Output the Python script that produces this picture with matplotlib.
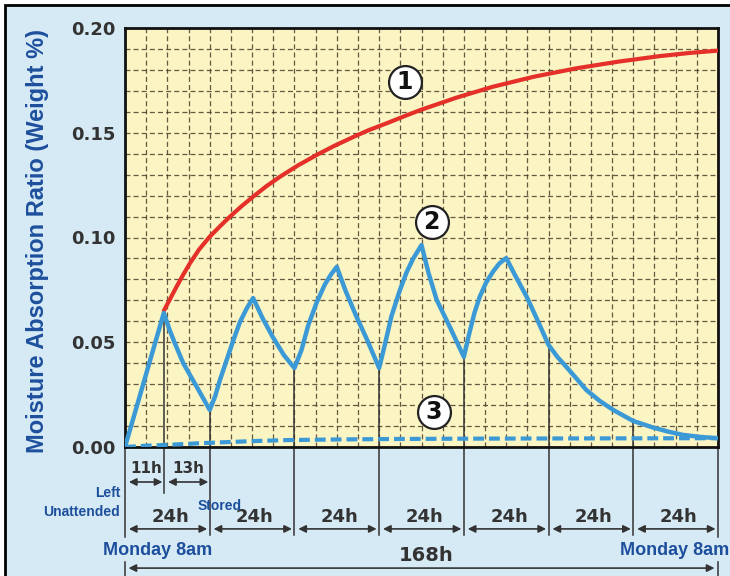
import matplotlib
matplotlib.use("Agg")
import matplotlib.pyplot as plt
import numpy as np
from matplotlib import font_manager
from matplotlib.patches import Rectangle

# curve 1 (red): left unattended the whole week
red_t = [11, 12.5, 14.6, 16.5, 18.4, 21, 24, 27, 29.7, 33, 36.3, 40, 43.9, 49, 54.3, 59,
         64.7, 69, 74.1, 79, 83.6, 94, 104.3, 116, 128, 140, 151.6, 160, 168]
red_v = [0.065, 0.0698, 0.0765, 0.0823, 0.0877, 0.0943, 0.1004, 0.1055, 0.1099, 0.1149,
         0.1195, 0.1244, 0.129, 0.1344, 0.1394, 0.1435, 0.148, 0.1512, 0.1545, 0.1578,
         0.1608, 0.1668, 0.172, 0.1768, 0.1808, 0.184, 0.1866, 0.1881, 0.1892]

# curve 2 (blue): used in the day, stored at night
blue_t = [0, 11, 12.5, 14, 16.5, 20.3, 24,
          25.5, 26.9, 28.8, 30.7, 32.6, 34.5, 36.3,
          39, 41.8, 45, 48,
          50, 51.9, 54.3, 56.6, 58.3, 60,
          62.5, 65.5, 68.5, 72,
          73.5, 75.5, 77.9, 79.8, 81.6, 84,
          86, 88.3, 92, 96,
          97.5, 99, 100.5, 102.3, 104.3, 106, 108,
          110.5, 113.8, 117, 120, 122.5, 125, 128, 130.7, 134.5, 138.3, 144, 149.6, 154,
          158, 163, 168]
blue_v = [0.0, 0.064, 0.0565, 0.050, 0.040, 0.0288, 0.0177,
          0.024, 0.032, 0.0415, 0.051, 0.0598, 0.0662, 0.0711,
          0.0614, 0.0527, 0.0439, 0.0377,
          0.0463, 0.058, 0.069, 0.0775, 0.0822, 0.086,
          0.0745, 0.0625, 0.0515, 0.0377,
          0.048, 0.0625, 0.075, 0.0835, 0.0898, 0.0964,
          0.083, 0.0702, 0.0574, 0.043,
          0.054, 0.064, 0.0717, 0.0785, 0.0838, 0.0875, 0.0902,
          0.082, 0.0717, 0.060, 0.0487, 0.043, 0.0383, 0.0325, 0.0272, 0.022, 0.0177,
          0.0124, 0.0093, 0.0073, 0.0058, 0.0048, 0.0042]

# curve 3 (dashed): stored the whole time
dash_t = [0, 6, 13, 20, 27, 36, 46, 60, 74, 100, 130, 168]
dash_v = [0.0, 0.0006, 0.0011, 0.0017, 0.0022, 0.0028, 0.0033, 0.0036, 0.0038, 0.0040,
          0.0041, 0.0042]

day_marks = [24, 48, 72, 96, 120, 144]
yticks = [0.0, 0.05, 0.10, 0.15, 0.20]
ytick_labels = ["0.00", "0.05", "0.10", "0.15", "0.20"]
circle_labels = ["1", "2", "3"]
circle_pos = [(79.3, 0.1744), (86.9, 0.1075), (87.4, 0.0168)]

names = {f.name for f in font_manager.fontManager.ttflist}
narrow = "Liberation Sans Narrow" if "Liberation Sans Narrow" in names else "Liberation Sans"

BLUE = "#3b9ad6"
RED = "#e5302a"
DARK = "#333333"
TXT_BLUE = "#1d4f9c"

fig = plt.figure(figsize=(7.3, 5.76), dpi=100, facecolor="white")
fig.add_artist(Rectangle((5 / 730, -0.2), 1.2, 1.2 - 5 / 576, transform=fig.transFigure,
                         facecolor="#d6eaf6", edgecolor="black", lw=2, zorder=-10))

ax = fig.add_axes([125 / 730, 1 - 447 / 576, 593 / 730, 419 / 576])
ax.set_facecolor("#fbf4c3")
ax.set_xlim(0, 168)
ax.set_ylim(0, 0.2)
ax.set_xticks(np.arange(0, 169, 6))
ax.set_xticklabels([])
ax.set_yticks(yticks)
ax.set_yticklabels(ytick_labels, fontsize=13, fontweight="bold", color=DARK)
ax.set_yticks(np.arange(0, 0.2001, 0.01), minor=True)
ax.tick_params(which="both", length=0, pad=7)
ax.grid(True, which="both", color="#4a3e2a", lw=0.9, linestyle=(0, (4, 2.5)), alpha=0.85)
ax.set_axisbelow(True)
for s in ax.spines.values():
    s.set_linewidth(2)
    s.set_color("#111111")

ax.plot(red_t, red_v, color=RED, lw=3, zorder=3, solid_capstyle="round")
ax.plot(blue_t, blue_v, color=BLUE, lw=3.2, zorder=4)
ax.plot(dash_t, dash_v, color=BLUE, lw=3, linestyle=(0, (2.6, 1.2)), zorder=4)

# vertical marker lines
top11 = np.interp(11, blue_t, blue_v)
ax.plot([11, 11], [top11, -0.022], color=DARK, lw=1.1, clip_on=False, zorder=2)
for t in day_marks:
    top = np.interp(t, blue_t, blue_v)
    ax.plot([t, t], [top, -0.042], color=DARK, lw=1.1, clip_on=False, zorder=2)
for t in [0, 168]:
    ax.plot([t, t], [0, -0.043], color=DARK, lw=1.1, clip_on=False)
    ax.plot([t, t], [-0.055, -0.09], color=DARK, lw=1.1, clip_on=False)


def arrow(x0, x1, y):
    ax.annotate("", xy=(x1, y), xytext=(x0, y), annotation_clip=False,
                arrowprops=dict(arrowstyle="<|-|>", color=DARK, lw=1.2,
                                mutation_scale=11, shrinkA=0, shrinkB=0))


arrow(1.1, 10.6, -0.0167)
arrow(12.2, 23.6, -0.0167)
ax.text(6.1, -0.0105, "11h", ha="center", va="center", fontsize=11, fontweight="bold",
        color=DARK)
ax.text(17.8, -0.0105, "13h", ha="center", va="center", fontsize=11, fontweight="bold",
        color=DARK)

edges = [0] + day_marks + [168]
for a, b in zip(edges[:-1], edges[1:]):
    arrow(a + 1.1, b - 0.7, -0.0391)
    ax.text((a + b) / 2 + 0.8, -0.0335, "24h", ha="center", va="center", fontsize=13,
            fontweight="bold", color=DARK)

arrow(1.0, 167, -0.0578)
ax.text(85.3, -0.052, "168h", ha="center", va="center", fontsize=14, fontweight="bold",
        color=DARK)

ax.text(-1.4, -0.0265, "Left\nUnattended", ha="right", va="center", fontsize=10,
        fontweight="bold", color=TXT_BLUE, family=narrow, linespacing=1.45)
ax.text(20.7, -0.0282, "Stored", ha="left", va="center", fontsize=10, fontweight="bold",
        color=TXT_BLUE, family=narrow, zorder=5)
ax.text(-6.2, -0.0492, "Monday 8am", ha="left", va="center", fontsize=13,
        fontweight="bold", color=TXT_BLUE, family="Liberation Sans")
ax.text(140.2, -0.0492, "Monday 8am", ha="left", va="center", fontsize=13,
        fontweight="bold", color=TXT_BLUE, family="Liberation Sans")

for lab, (cx, cy) in zip(circle_labels, circle_pos):
    ax.scatter([cx], [cy], s=560, facecolor="white", edgecolor="#222222", lw=1.6, zorder=6)
    ax.text(cx, cy, lab, ha="center", va="center", fontsize=17, fontweight="bold",
            color="#111111", zorder=7)

fig.text(38 / 730, 1 - 241 / 576, "Moisture Absorption Ratio (Weight %)", rotation=90,
         ha="center", va="center", fontsize=17, fontweight="bold", color=TXT_BLUE,
         family=narrow)

fig.savefig("out.png", dpi=100, facecolor=fig.get_facecolor())
